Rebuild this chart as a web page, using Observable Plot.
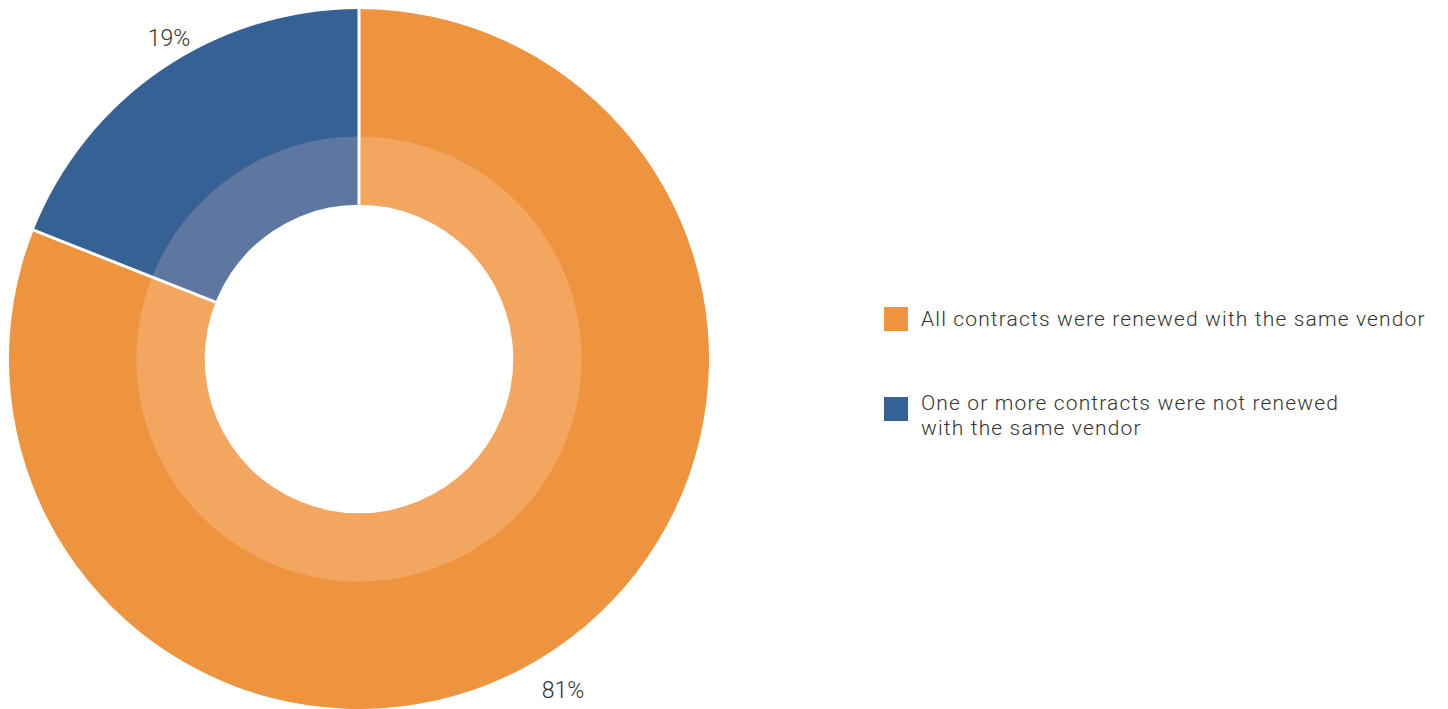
<!DOCTYPE html>
<html>
<head>
<meta charset="utf-8">
<script src="https://cdn.jsdelivr.net/npm/d3@7"></script>
<script src="https://cdn.jsdelivr.net/npm/@observablehq/plot@0.6"></script>
<style>
  html, body { margin: 0; padding: 0; background: #fff; }
  #wrap { position: relative; width: 1448px; height: 709px; font-family: Roboto, "Liberation Sans", sans-serif; font-weight: 300; }
  .sw { position: absolute; left: 884px; width: 24px; height: 24px; }
  .txt { position: absolute; left: 921px; color: #333; font-size: 21px; line-height: 25px; letter-spacing: 1.15px; white-space: nowrap; }
</style>
</head>
<body>
<div id="wrap"></div>
<script>
const categories = ["All contracts were renewed with the same vendor", "One or more contracts were not renewed with the same vendor"];
const legendLines = [["All contracts were renewed with the same vendor"], ["One or more contracts were not renewed", "with the same vendor"]];
const shares = [81, 19];
const labels = ["81%", "19%"];
const outerColors = ["#EE943F", "#366194"];
const innerColors = ["#F2A65F", "#5D77A1"];

const pie = d3.pie().sort(null).value(d => d.share).startAngle(0).endAngle(2 * Math.PI);
const rows = categories.map((c, i) => ({category: c, share: shares[i], label: labels[i], outer: outerColors[i], inner: innerColors[i]}));
const arcs = pie(rows);
const labelR = 1.085;
const labelData = arcs.map(a => {
  const m = (a.startAngle + a.endAngle) / 2;
  return {label: a.data.label, x: labelR * Math.sin(m), y: labelR * Math.cos(m)};
});

const ringOuter = 1, ringMid = 0.636, ringInner = 0.441;

function donut(index, scales, values, dims) {
  const cx = scales.x(0), cy = scales.y(0);
  const k = scales.x(1) - scales.x(0);
  const g = d3.create("svg:g").attr("transform", `translate(${cx},${cy})`);
  const outerArc = d3.arc().innerRadius(0).outerRadius(ringOuter * k);
  const innerArc = d3.arc().innerRadius(ringInner * k).outerRadius(ringMid * k);
  g.selectAll("path.o").data(arcs).join("path").attr("class", "o")
    .attr("d", outerArc).attr("fill", d => d.data.outer);
  g.selectAll("path.i").data(arcs).join("path").attr("class", "i")
    .attr("d", innerArc).attr("fill", d => d.data.inner);
  g.append("circle").attr("r", ringInner * k).attr("fill", "#fff");
  g.selectAll("line").data(arcs).join("line")
    .attr("x1", d => ringInner * k * Math.sin(d.startAngle))
    .attr("y1", d => -ringInner * k * Math.cos(d.startAngle))
    .attr("x2", d => ringOuter * k * Math.sin(d.startAngle))
    .attr("y2", d => -ringOuter * k * Math.cos(d.startAngle))
    .attr("stroke", "#fff").attr("stroke-width", 3);
  return g.node();
}

const chart = Plot.plot({
  width: 1448,
  height: 709,
  marginLeft: 9,
  marginRight: 739,
  marginTop: 9,
  marginBottom: 0,
  x: {domain: [-1, 1], axis: null},
  y: {domain: [-1, 1], axis: null},
  style: {fontFamily: "Roboto, 'Liberation Sans', sans-serif", background: "#fff", overflow: "visible"},
  marks: [
    donut,
    Plot.text(labelData.slice(0, 1), {x: "x", y: "y", text: "label", fontSize: 23, fontWeight: 300, fill: "#333", dx: -10, dy: 17}),
    Plot.text(labelData.slice(1), {x: "x", y: "y", text: "label", fontSize: 23, fontWeight: 300, fill: "#333", dx: 23, dy: -7})
  ]
});

const wrap = document.getElementById("wrap");
wrap.appendChild(chart);
const swTops = [307, 397];
const txtTops = [307, 391];
legendLines.forEach((lines, i) => {
  const sw = document.createElement("div");
  sw.className = "sw";
  sw.style.top = swTops[i] + "px";
  sw.style.background = outerColors[i];
  wrap.appendChild(sw);
  lines.forEach((line, j) => {
    const t = document.createElement("div");
    t.className = "txt";
    t.style.top = (txtTops[i] + j * 25) + "px";
    t.textContent = line;
    wrap.appendChild(t);
  });
});
</script>
</body>
</html>
